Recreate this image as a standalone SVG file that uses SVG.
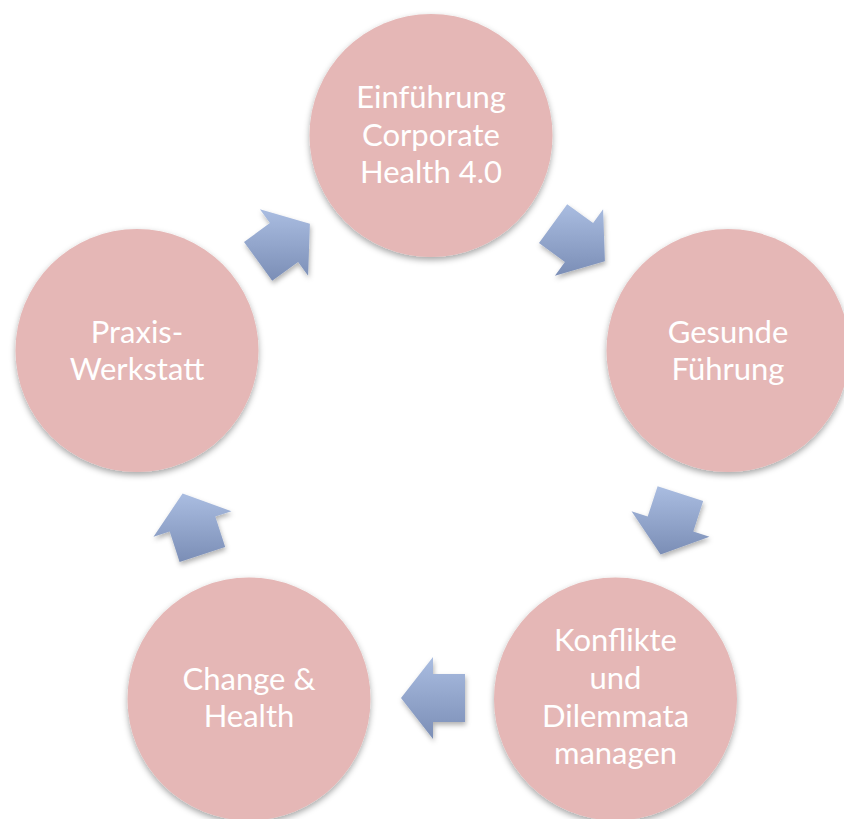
<svg xmlns="http://www.w3.org/2000/svg" width="844" height="819" viewBox="0 0 844 819">
  <style>
    .node circle { fill: #E5B7B6; filter: url(#cshadow); }
    .node text { fill: #FFFFFF; font-family: Lato, "Open Sans", "Liberation Sans", sans-serif; font-size: 31px; text-anchor: middle; }
    .arrow { fill: url(#agrad); filter: url(#ashadow); }
  </style>
  <defs>
    <linearGradient id="agrad" x1="0" y1="0" x2="0" y2="1">
      <stop offset="0" stop-color="#AABDE1"/>
      <stop offset="1" stop-color="#7B8EB6"/>
    </linearGradient>
    <filter id="cshadow" x="-20%" y="-20%" width="140%" height="140%">
      <feDropShadow dx="0" dy="3" stdDeviation="3" flood-color="#000" flood-opacity="0.35"/>
    </filter>
    <filter id="ashadow" x="-30%" y="-30%" width="160%" height="160%">
      <feDropShadow dx="1" dy="3" stdDeviation="2.5" flood-color="#000" flood-opacity="0.3"/>
    </filter>
  </defs>
  <rect width="844" height="819" fill="#FFFFFF"/>

  <g id="connectors">
    <polygon class="arrow" points="567.2,204.3 593.1,223.1 603.1,209.3 604.9,261.3 554.9,275.7 564.9,261.9 539.0,243.1"/>
    <polygon class="arrow" points="703.2,501.0 693.3,531.4 709.5,536.7 660.6,554.4 631.5,511.3 647.7,516.6 657.6,486.2"/>
    <polygon class="arrow" points="465,722 433,722 433,739 401,698 433,657 433,674 465,674"/>
    <polygon class="arrow" points="179.6,561.9 169.7,531.4 153.5,536.7 182.6,493.6 231.5,511.3 215.3,516.6 225.2,547.0"/>
    <polygon class="arrow" points="244.0,241.9 269.9,223.1 259.9,209.3 309.9,223.7 308.1,275.7 298.1,261.9 272.2,280.7"/>
  </g>

  <g id="node-einfuehrung" class="node">
    <circle cx="431" cy="135.5" r="121.5"/>
    <text x="431" y="108">Einführung</text>
    <text x="431" y="146">Corporate</text>
    <text x="431" y="183">Health 4.0</text>
  </g>

  <g id="node-gesunde-fuehrung" class="node">
    <circle cx="728" cy="350.5" r="121.5"/>
    <text x="728" y="343">Gesunde</text>
    <text x="728" y="380">Führung</text>
  </g>

  <g id="node-konflikte" class="node">
    <circle cx="615.5" cy="699" r="121.5"/>
    <text x="615.5" y="651">Konflikte</text>
    <text x="615.5" y="689">und</text>
    <text x="615.5" y="727">Dilemmata</text>
    <text x="615.5" y="764">managen</text>
  </g>

  <g id="node-change-health" class="node">
    <circle cx="249" cy="699" r="121.5"/>
    <text x="249" y="690">Change &amp;</text>
    <text x="249" y="727">Health</text>
  </g>

  <g id="node-praxis-werkstatt" class="node">
    <circle cx="137" cy="350.5" r="121.5"/>
    <text x="137" y="343">Praxis-</text>
    <text x="137" y="380">Werkstatt</text>
  </g>
</svg>
